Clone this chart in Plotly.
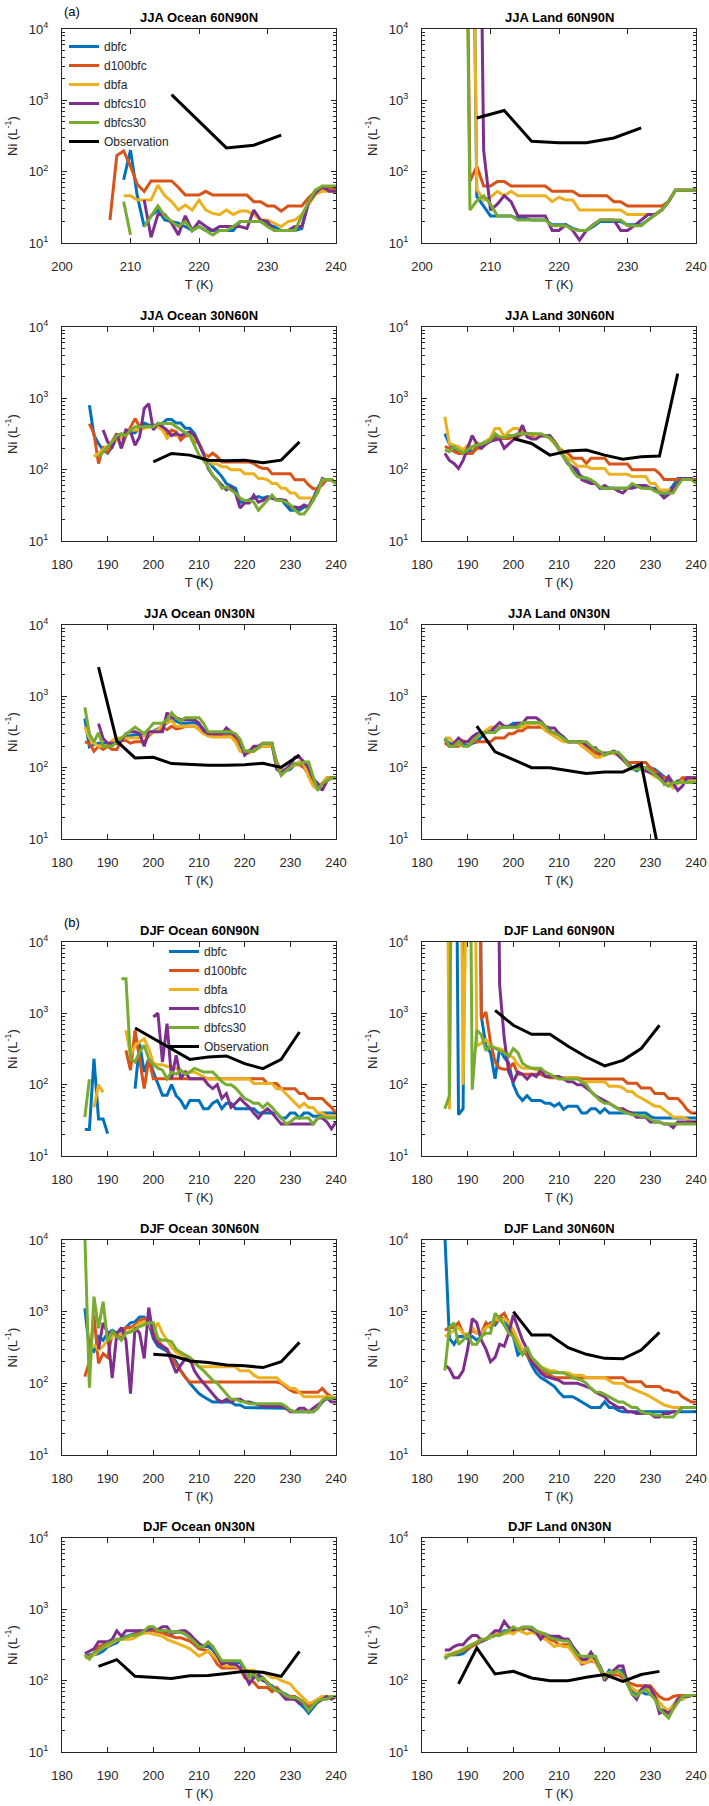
import plotly.graph_objects as go
from plotly.subplots import make_subplots

series_names = ["dbfc", "d100bfc", "dbfa", "dbfcs10", "dbfcs30"]
series_colors = ["#0072BD", "#D95319", "#EDB120", "#7E2F8E", "#77AC30"]
N = None
OFF = 1e10  # model value far above the 10^4 top of the axis

# ---------------- JJA Ocean 60N90N (model values start at 207 K, 1 K steps)
jo60_t0 = 207
jo60_dbfc = [N, N, 77, 200, 45, 17, 24, 29, 21, 20, 19, 17, 15, 17, 15, 15, 15, 15, 15, 20,
             20, 20, 20, 18, 17, 15, 15, 15, 16, 38, 55, 60, 60, 60]
jo60_d100bfc = [21, 168, 195, 119, 66, 53, 74, 74, 74, 74, 60, 47, 47, 47, 53, 47, 47, 47, 47, 47,
                47, 38, 38, 33, 33, 28, 33, 33, 33, 43, 53, 57, 57, 57]
jo60_dbfa = [N, N, 46, 46, 40, 40, 40, 65, 46, 38, 29, 34, 29, 40, 29, 26, 25, 29, 25, 28,
             28, 25, 21, 21, 19, 17, 20, 21, 25, 34, 48, 53, 53, 53]
jo60_dbfcs10 = [N, N, N, N, N, 40, 12, 25, 25, 19, 13, 24, 15, 20, 17, 15, 17, 17, 17, 17,
                16, 29, 21, 20, 15, 15, 15, 17, 17, 37, 50, 62, 53, 53]
jo60_dbfcs30 = [N, N, 38, 13, N, 17, 24, 33, 24, 20, 17, 20, 15, 17, 15, 13, 15, 15, 17, 20,
                20, 20, 20, 17, 15, 15, 15, 15, 24, 38, 55, 63, 63, 63]
jo60_obs_t = [216, 220, 224, 228, 232]
jo60_obs = [1200, 510, 215, 235, 325]

# ---------------- JJA Land 60N90N (from 206 K)
jl60_t0 = 206
jl60_dbfc = [N, OFF, 45, 33, 24, 24, 24, 24, 22, 22, 21, 21, 21, 18, 18, 18, 16, 15, 15, 17,
             20, 20, 20, 20, 18, 18, 18, 21, 25, 29, 38, 55, 55, 55, 55]
jl60_d100bfc = [OFF, 73, 119, 63, 63, 73, 73, 63, 63, 63, 63, 63, 63, 53, 53, 53, 53, 46, 46, 46,
                46, 46, 38, 38, 33, 33, 33, 33, 33, 33, 38, 55, 55, 55, 55]
jl60_dbfa = [N, OFF, 56, 40, 44, 53, 46, 53, 46, 46, 46, 46, 46, 38, 44, 40, 40, 29, 29, 29,
             29, 29, 29, 29, 25, 25, 25, 25, 25, 29, 38, 55, 55, 55, 55]
jl60_dbfcs10 = [N, N, OFF, 200, 29, 35, 46, 38, 24, 24, 24, 24, 24, 15, 15, 18, 15, 11, 15, 18,
                21, 21, 21, 15, 15, 17.5, 21, 25, 25, 29, 38, 55, 55, 55, 55]
jl60_dbfcs30 = [OFF, 29, 39, 46, 35, 24, 24, 24, 21, 21, 21, 21, 21, 17.5, 17.5, 17.5, 15.5, 15, 15, 17.5,
                21, 21, 21, 21, 17.5, 17.5, 17.5, 21, 25, 29, 38, 55, 55, 55, 55]
jl60_obs_t = [208, 212, 216, 220, 224, 228, 232]
jl60_obs = [565, 720, 266, 255, 255, 297, 410]

# ---------------- JJA Ocean 30N60N (from 186 K)
jo30_t0 = 186
jo30_dbfc = [800, 304, 233, 187, 170, 210, 280, 300, 330, 330,
             330, 380, 450, 420, 420, 420, 450, 505, 505, 450,
             450, 380, 380, 321, 233, 170, 136, 110, 94, 80,
             64, 60, 55, 35, 35, 38, 40, 42, 40, 42,
             40, 38, 38, 32, 27, 27, 27, 30, 30, 40,
             55, 70, 72, 72, 65]
jo30_d100bfc = [443, 320, 122, 210, 170, 250, 320, 200, 300, 400,
                520, 400, 400, 400, 400, 400, 400, 300, 360, 340,
                260, 300, 300, 250, 233, 170, 152, 170, 152, 128,
                128, 128, 128, 128, 128, 128, 122, 110, 104, 104,
                88, 88, 88, 88, 88, 72, 72, 72, 61, 54,
                54, 61, 73, 73, 65]
jo30_dbfa = [N, 152, 170, 190, 210, 240, 260, 280, 360, 360,
             360, 360, 380, 400, 400, 400, 360, 275, 320, 300,
             300, 320, 300, 270, 230, 170, 136, 120, 120, 110,
             110, 100, 100, 100, 88, 88, 88, 75, 75, 72,
             64, 64, 55, 55, 47, 47, 40, 40, 40, 40,
             47, 72, 72, 70, 65]
jo30_dbfcs10 = [N, N, N, 360, 245, 210, 320, 200, 360, 340,
                220, 290, 720, 840, 360, 445, 400, 360, 300, 320,
                300, 320, 340, 300, 230, 165, 104, 83, 72, 61,
                52, 57, 47, 29, 34, 34, 44, 35, 37, 41,
                40, 38, 38, 37, 30, 30, 29, 32, 30, 38,
                50, 75, 72, 72, 65]
jo30_dbfcs30 = [N, N, 150, 180, 210, 245, 300, 320, 300, 360,
                400, 400, 400, 400, 400, 445, 445, 445, 445, 400,
                360, 330, 300, 220, 160, 136, 110, 83, 72, 55,
                57, 52, 47, 40, 37, 37, 35, 27, 32, 37,
                44, 37, 37, 35, 32, 27, 24, 24, 29, 37,
                49, 73, 73, 73, 63]
jo30_obs_t = [200, 204, 208, 212, 216, 220, 224, 228, 232]
jo30_obs = [129, 169, 160, 136, 133, 136, 125, 136, 245]

# ---------------- JJA Land 30N60N (from 185 K)
jl30_t0 = 185
jl30_dbfc = [320, 230, 200, 180, 190, 180, 190, 210, 230, 250,
             270, 290, 280, 280, 300, 300, 310, 320, 320, 320,
             300, 300, 300, 300, 250, 200, 160, 130, 100, 90,
             80, 75, 70, 65, 55, 55, 55, 55, 55, 55,
             55, 60, 60, 60, 55, 55, 55, 50, 45, 50,
             60, 75, 75, 75, 75, 65]
jl30_d100bfc = [210, 200, 180, 169, 169, 169, 169, 200, 200, 230,
                250, 273, 273, 273, 273, 290, 290, 320, 320, 300,
                300, 300, 300, 290, 250, 200, 180, 169, 145, 145,
                145, 122, 145, 145, 145, 145, 120, 120, 120, 120,
                120, 100, 100, 100, 100, 100, 100, 88, 73, 73,
                73, 73, 73, 73, 73, 73]
jl30_dbfa = [550, 233, 220, 210, 190, 220, 200, 240, 220, 250,
             280, 377, 377, 290, 340, 377, 377, 340, 300, 320,
             300, 300, 300, 270, 230, 200, 160, 145, 130, 112,
             112, 112, 104, 104, 104, 104, 86, 86, 86, 86,
             86, 80, 80, 80, 80, 64, 64, 52, 52, 52,
             52, 64, 73, 73, 73, 65]
jl30_dbfcs10 = [170, 135, 122, 104, 135, 200, 300, 230, 200, 230,
                250, 260, 270, 200, 230, 260, 300, 420, 290, 270,
                270, 300, 300, 300, 240, 190, 150, 120, 110, 100,
                72, 68, 64, 64, 55, 60, 55, 55, 50, 47,
                55, 55, 57, 60, 60, 55, 50, 47, 40, 45,
                55, 65, 75, 75, 75, 65]
jl30_dbfcs30 = [190, 178, 210, 190, 170, 190, 210, 220, 230, 240,
                260, 320, 290, 280, 300, 300, 320, 320, 320, 320,
                320, 320, 300, 280, 240, 190, 150, 125, 95, 80,
                77, 77, 72, 65, 57, 55, 55, 55, 55, 55,
                55, 64, 60, 55, 55, 55, 50, 47, 47, 47,
                47, 60, 73, 73, 73, 65]
jl30_obs_t = [200, 204, 208, 212, 216, 220, 224, 228, 232, 236]
jl30_obs = [273, 233, 160, 183, 188, 160, 140, 152, 155, 2220]

# ---------------- JJA Ocean 0N30N (from 185 K)
jo0_t0 = 185
jo0_dbfc = [490, 196, 210, 220, 220, 210, 220, 220, 250, 270,
            280, 290, 290, 280, 300, 320, 350, 380, 420, 470,
            450, 420, 420, 430, 430, 400, 350, 300, 300, 300,
            300, 300, 300, 260, 200, 170, 170, 190, 200, 210,
            210, 210, 120, 85, 90, 95, 110, 120, 110, 90,
            65, 50, 60, 70, 72, 72]
jo0_d100bfc = [230, 220, 170, 200, 180, 200, 180, 180, 240, 240,
               220, 230, 230, 230, 280, 320, 320, 370, 340, 380,
               350, 360, 380, 380, 380, 350, 320, 280, 280, 280,
               280, 280, 280, 250, 220, 170, 170, 170, 190, 200,
               200, 200, 120, 90, 95, 100, 110, 110, 100, 80,
               65, 55, 60, 72, 72, 72]
jo0_dbfa = [374, 260, 220, 200, 200, 210, 240, 260, 260, 260,
            260, 260, 260, 280, 300, 320, 340, 400, 420, 460,
            380, 380, 380, 380, 380, 340, 300, 280, 270, 270,
            270, 270, 270, 230, 170, 160, 160, 180, 190, 200,
            200, 200, 110, 88, 95, 100, 110, 120, 110, 75,
            55, 50, 60, 72, 72, 72]
jo0_dbfcs10 = [N, N, N, 415, 256, 220, 220, 220, 240, 300,
               320, 320, 300, 200, 320, 320, 320, 320, 590, 500,
               500, 470, 470, 470, 470, 420, 330, 300, 300, 300,
               300, 360, 320, 280, 240, 150, 170, 200, 200, 220,
               220, 220, 95, 85, 95, 110, 140, 140, 120, 100,
               70, 60, 48, 65, 72, 72]
jo0_dbfcs30 = [700, 300, 230, 310, 200, 200, 200, 230, 260, 300,
               330, 370, 330, 300, 350, 420, 420, 420, 470, 590,
               500, 450, 500, 500, 500, 500, 420, 320, 320, 320,
               320, 320, 320, 300, 250, 170, 170, 170, 190, 220,
               220, 220, 110, 78, 90, 100, 115, 110, 120, 120,
               75, 48, 60, 65, 72, 72]
jo0_obs_t = [188, 192, 196, 200, 204, 208, 212, 216, 220, 224, 228, 232]
jo0_obs = [2570, 235, 137, 140, 114, 110, 108, 108, 110, 115, 101, 150]

# ---------------- JJA Land 0N30N (from 185 K)
jl0_t0 = 185
jl0_dbfc = [250, 220, 210, 210, 220, 200, 220, 230, 270, 320,
            320, 320, 360, 370, 380, 420, 420, 420, 420, 420,
            420, 400, 370, 330, 300, 300, 270, 230, 230, 230,
            230, 210, 190, 170, 160, 150, 160, 170, 160, 140,
            120, 100, 90, 100, 100, 100, 95, 85, 75, 65,
            60, 65, 68, 70, 70, 66]
jl0_d100bfc = [223, 200, 200, 200, 230, 230, 230, 230, 230, 230,
               230, 260, 260, 260, 300, 300, 330, 330, 370, 370,
               370, 370, 350, 320, 300, 300, 260, 230, 230, 230,
               230, 200, 180, 160, 150, 150, 160, 160, 150, 130,
               118, 118, 118, 118, 118, 100, 90, 80, 72, 72,
               60, 60, 72, 72, 72, 72]
jl0_dbfa = [260, 260, 220, 210, 240, 230, 260, 290, 300, 330,
            370, 370, 370, 370, 370, 370, 370, 370, 400, 420,
            420, 400, 330, 300, 270, 250, 230, 230, 230, 230,
            200, 180, 160, 140, 140, 150, 160, 160, 150, 130,
            110, 100, 100, 100, 95, 85, 75, 70, 65, 60,
            52, 60, 65, 65, 65, 65]
jl0_dbfcs10 = [250, 200, 220, 260, 230, 230, 270, 300, 310, 310,
               320, 370, 430, 380, 380, 380, 420, 420, 500, 500,
               500, 450, 380, 360, 360, 300, 260, 230, 230, 230,
               230, 210, 190, 190, 160, 160, 160, 170, 150, 130,
               110, 100, 100, 100, 90, 85, 80, 80, 60, 75,
               60, 48, 55, 72, 72, 72]
jl0_dbfcs30 = [260, 200, 200, 230, 200, 200, 230, 270, 310, 310,
               310, 310, 370, 370, 370, 370, 370, 430, 430, 430,
               430, 430, 380, 320, 310, 280, 250, 230, 230, 230,
               230, 230, 200, 180, 170, 150, 165, 165, 165, 140,
               110, 95, 95, 95, 100, 90, 80, 70, 60, 55,
               62, 62, 62, 62, 62, 62]
jl0_obs_t = [192, 196, 200, 204, 208, 212, 216, 220, 224, 228, 232]
jl0_obs = [382, 167, 130, 100, 100, 91, 83, 87, 87, 114, 6]

# ---------------- DJF Ocean 60N90N (from 185 K)
do60_t0 = 185
do60_dbfc = [23.5, 23.5, 231, 33, 33, 20.6, N, N, N, N,
             N, 88, 375, 150, 230, 150, 100, 71, 71, 100,
             70, 60, 46, 60, 60, 60, 46, 46, 55, 60,
             46, 55, 55, 46, 46, 46, 46, 46, 40, 40,
             40, 40, 40, 34, 34, 40, 40, 34, 40, 40,
             36, 36, 40, 40, 40, 40]
do60_d100bfc = [N, N, N, N, N, N, N, N, N, 303,
                160, 578, 208, 88, 230, 121, 121, 121, 121, 121,
                121, 121, 121, 121, 121, 121, 121, 121, 121, 121,
                121, 121, 121, 121, 121, 121, 121, 121, 121, 121,
                104, 104, 104, 88, 88, 88, 88, 75, 75, 64,
                64, 64, 64, 55, 48, 40]
do60_dbfa = [N, N, 48, 100, 78, N, N, N, N, 578,
             258, 356, 400, 440, 320, 200, 190, 190, 180, 180,
             170, 150, 150, 150, 150, 140, 130, 120, 120, 120,
             120, 120, 120, 120, 120, 120, 120, 104, 104, 104,
             104, 104, 88, 88, 75, 64, 55, 48, 55, 48,
             48, 40, 40, 36, 36, 36]
do60_dbfcs10 = [N, N, N, N, N, N, N, N, N, N,
                N, N, N, N, N, 890, 1010, 208, 716, 121,
                258, 121, 150, 121, 121, 121, 121, 100, 88, 100,
                64, 75, 48, 55, 64, 55, 48, 40, 34, 41,
                46, 40, 34, 28, 28, 28, 28, 28, 28, 28,
                28, 34, 34, 30, 24, 30]
do60_dbfcs30 = [35, 119, N, N, N, N, N, N, 3060, 3060,
                231, 208, 287, 356, 230, 190, 170, 160, 121, 150,
                140, 160, 140, 150, 170, 160, 150, 150, 150, 130,
                110, 100, 100, 90, 75, 64, 60, 55, 55, 48,
                55, 48, 40, 35, 28, 30, 34, 34, 34, 34,
                28, 34, 36, 34, 34, 34]
do60_obs_t = [196, 200, 204, 208, 212, 216, 220, 224, 228, 232]
do60_obs = [622, 441, 320, 226, 244, 253, 197, 168, 226, 548]

# ---------------- DJF Land 60N90N (from 185 K)
dl60_t0 = 185
dl60_dbfc = [N, N, OFF, 38, 46, OFF, OFF, OFF, 900, 350,
             280, 121, 320, 240, 200, 100, 71, 60, 70, 60,
             60, 60, 55, 55, 50, 55, 45, 50, 50, 50,
             40, 40, 46, 46, 40, 46, 40, 40, 40, 40,
             40, 40, 40, 40, 40, 36, 34, 34, 34, 34,
             34, 34, 34, 34, 34, 34]
dl60_d100bfc = [N, N, N, N, N, N, N, OFF, 830, 1045,
                396, 208, 170, 165, 165, 200, 140, 140, 140, 140,
                140, 140, 130, 125, 125, 125, 125, 125, 125, 125,
                120, 120, 120, 120, 120, 120, 120, 120, 120, 120,
                105, 105, 105, 90, 90, 90, 75, 75, 75, 64,
                64, 64, 55, 45, 40, 40]
dl60_dbfa = [OFF, 45, OFF, OFF, 100, OFF, OFF, 350, 380, 430,
             350, 330, 320, 300, 260, 240, 190, 170, 170, 170,
             160, 160, 150, 140, 130, 125, 125, 125, 125, 125,
             110, 110, 110, 110, 110, 110, 95, 95, 95, 90,
             80, 80, 70, 65, 60, 55, 50, 50, 45, 40,
             35, 35, 35, 33, 30, 30]
dl60_dbfcs10 = [N, N, N, N, N, N, N, N, N, N,
                N, OFF, 2500, 450, 150, 109, 150, 140, 120, 140,
                130, 160, 130, 130, 130, 130, 120, 110, 110, 100,
                100, 90, 80, 70, 65, 60, 55, 50, 46, 46,
                42, 40, 35, 35, 35, 30, 30, 30, 28, 28,
                25, 30, 30, 30, 30, 30]
dl60_dbfcs30 = [46, 70, OFF, OFF, OFF, OFF, 85, 580, 500, 300,
                350, 320, 300, 280, 250, 320, 280, 200, 180, 170,
                170, 170, 150, 140, 130, 120, 120, 120, 120, 120,
                110, 100, 80, 70, 60, 55, 55, 50, 46, 42,
                40, 38, 38, 36, 36, 33, 30, 30, 28, 28,
                28, 28, 28, 28, 28, 28]
dl60_obs_t = [196, 200, 204, 208, 212, 216, 220, 224, 228, 232]
dl60_obs = [1100, 680, 508, 508, 345, 244, 183, 219, 320, 680]

# ---------------- DJF Ocean 30N60N (from 185 K)
do30_t0 = 185
do30_dbfc = [1110, 300, 280, 450, 400, 500, 550, 500, 550, 600,
             700, 720, 840, 840, 700, 420, 330, 300, 280, 240,
             200, 150, 120, 100, 85, 72, 65, 60, 55, 55,
             55, 55, 55, 50, 50, 46, 46, 46, 46, 46,
             46, 46, 46, 46, 45, 42, 40, 40, 40, 40,
             40, 45, 55, 62, 62, 62]
do30_d100bfc = [124, 200, 900, 190, 260, 230, 500, 500, 450, 600,
                600, 650, 750, 800, 700, 500, 400, 330, 300, 230,
                180, 150, 120, 104, 104, 104, 104, 104, 104, 104,
                104, 104, 104, 104, 104, 104, 104, 104, 104, 104,
                104, 104, 104, 100, 90, 80, 75, 75, 75, 75,
                75, 75, 85, 72, 65, 62]
do30_dbfa = [N, N, 350, 290, 330, 400, 450, 500, 480, 500,
             550, 600, 700, 720, 700, 550, 700, 500, 400, 320,
             270, 250, 230, 200, 190, 170, 170, 170, 170, 170,
             170, 170, 170, 170, 150, 150, 150, 130, 120, 120,
             120, 120, 120, 104, 95, 85, 85, 75, 65, 65,
             65, 65, 65, 65, 65, 62]
do30_dbfcs10 = [N, N, N, 300, 700, 500, 118, 500, 600, 400,
                72, 600, 500, 223, 1140, 450, 350, 330, 300, 200,
                140, 180, 220, 220, 150, 120, 100, 85, 70, 60,
                55, 60, 55, 60, 60, 55, 55, 52, 50, 48,
                48, 48, 48, 48, 45, 40, 40, 45, 45, 40,
                45, 50, 55, 62, 55, 55]
do30_dbfcs30 = [12000, 87, 1620, 585, 1380, 381, 526, 450, 400, 500,
                520, 560, 620, 660, 700, 700, 425, 400, 400, 380,
                300, 270, 250, 230, 200, 170, 150, 130, 110, 100,
                85, 70, 60, 60, 56, 55, 52, 52, 52, 52,
                52, 52, 52, 52, 48, 42, 40, 40, 40, 40,
                40, 45, 58, 62, 62, 62]
do30_obs_t = [200, 204, 208, 212, 216, 220, 224, 228, 232]
do30_obs = [254, 244, 205, 195, 180, 176, 166, 200, 373]

# ---------------- DJF Land 30N60N (from 185 K)
dl30_t0 = 185
dl30_dbfc = [12000, 425, 350, 450, 450, 420, 450, 400, 450, 600,
             700, 650, 800, 800, 600, 450, 250, 280, 250, 180,
             140, 120, 110, 100, 90, 75, 65, 65, 65, 60,
             55, 50, 46, 46, 46, 55, 46, 46, 42, 40,
             40, 40, 40, 40, 40, 40, 40, 40, 40, 40,
             40, 40, 40, 40, 40, 40]
dl30_d100bfc = [550, 600, 600, 700, 500, 450, 550, 500, 500, 700,
                600, 700, 850, 950, 700, 500, 350, 300, 250, 200,
                170, 150, 140, 130, 120, 120, 120, 120, 120, 120,
                120, 120, 120, 120, 120, 120, 120, 120, 120, 120,
                105, 105, 105, 105, 90, 90, 90, 90, 80, 80,
                75, 75, 65, 60, 55, 55]
dl30_dbfa = [450, 500, 550, 600, 500, 450, 600, 500, 500, 600,
             650, 800, 750, 800, 700, 550, 400, 300, 280, 230,
             190, 170, 160, 150, 150, 140, 140, 140, 130, 130,
             130, 120, 120, 120, 120, 120, 110, 100, 100, 100,
             90, 85, 80, 75, 70, 65, 60, 55, 50, 48,
             46, 46, 46, 46, 46, 46]
dl30_dbfcs10 = [180, 160, 120, 120, 150, 300, 800, 700, 400, 300,
                200, 230, 350, 330, 500, 900, 600, 400, 300, 200,
                170, 140, 125, 120, 115, 110, 100, 100, 100, 100,
                95, 90, 85, 75, 70, 65, 55, 50, 46, 46,
                40, 40, 38, 38, 38, 38, 34, 34, 38, 38,
                40, 40, 46, 46, 46, 46]
dl30_dbfcs30 = [150, 600, 700, 350, 400, 500, 350, 350, 450, 500,
                500, 950, 800, 650, 500, 450, 320, 250, 320, 230,
                200, 170, 150, 140, 140, 140, 140, 130, 120, 115,
                110, 100, 85, 75, 75, 70, 65, 60, 55, 55,
                50, 46, 46, 40, 38, 38, 36, 36, 34, 34,
                34, 40, 46, 46, 46, 46]
dl30_obs_t = [200, 204, 208, 212, 216, 220, 224, 228, 232]
dl30_obs = [1000, 472, 472, 315, 254, 223, 220, 292, 515]

# ---------------- DJF Ocean 0N30N (from 185 K)
do0_t0 = 185
do0_dbfc = [220, 230, 230, 240, 260, 300, 320, 340, 400, 420,
            440, 460, 480, 500, 500, 500, 500, 500, 480, 480,
            480, 480, 450, 400, 380, 330, 300, 300, 270, 220,
            180, 180, 180, 180, 180, 140, 120, 110, 120, 110,
            90, 85, 75, 70, 65, 60, 55, 48, 42, 35,
            42, 50, 55, 60, 60, 60]
do0_d100bfc = [220, 220, 240, 300, 320, 340, 340, 380, 380, 400,
               420, 450, 500, 500, 520, 500, 480, 470, 440, 420,
               400, 400, 380, 360, 320, 280, 270, 260, 220, 170,
               150, 150, 150, 150, 150, 110, 100, 95, 80, 80,
               80, 70, 80, 70, 60, 60, 60, 55, 50, 45,
               50, 55, 60, 60, 60, 60]
do0_dbfa = [210, 210, 230, 260, 290, 310, 340, 370, 380, 380,
            380, 400, 440, 460, 470, 450, 440, 420, 380, 360,
            340, 320, 300, 280, 250, 220, 240, 260, 230, 200,
            170, 160, 160, 160, 150, 140, 140, 140, 130, 130,
            120, 110, 110, 100, 95, 90, 75, 65, 55, 48,
            50, 55, 60, 60, 60, 60]
do0_dbfcs10 = [240, 260, 280, 350, 350, 350, 380, 500, 420, 500,
               500, 500, 500, 500, 520, 540, 520, 570, 570, 460,
               480, 500, 500, 450, 380, 330, 300, 330, 300, 220,
               170, 180, 170, 170, 150, 120, 90, 110, 120, 100,
               95, 80, 75, 65, 55, 55, 55, 48, 48, 40,
               45, 50, 55, 60, 55, 60]
do0_dbfcs30 = [230, 200, 250, 260, 300, 330, 350, 380, 380, 400,
               430, 430, 450, 500, 570, 570, 500, 500, 500, 480,
               480, 480, 450, 400, 350, 300, 300, 350, 300, 240,
               190, 190, 190, 190, 190, 150, 110, 130, 100, 110,
               95, 80, 72, 70, 62, 58, 58, 55, 48, 38,
               45, 52, 55, 55, 60, 60]
do0_obs_t = [188, 192, 196, 200, 204, 208, 212, 216, 220, 224, 228, 232]
do0_obs = [159, 197, 115, 110, 107, 117, 118, 126, 135, 131, 115, 258]

# ---------------- DJF Land 0N30N (from 185 K)
dl0_t0 = 185
dl0_dbfc = [210, 230, 230, 230, 240, 270, 310, 330, 350, 380,
            400, 430, 450, 500, 500, 520, 520, 520, 560, 560,
            500, 450, 420, 420, 400, 380, 380, 380, 300, 250,
            190, 190, 210, 200, 160, 110, 140, 130, 140, 140,
            100, 75, 65, 70, 65, 65, 60, 40, 38, 35,
            45, 55, 55, 60, 62, 62]
dl0_d100bfc = [220, 230, 230, 250, 260, 280, 300, 330, 360, 380,
               420, 450, 450, 460, 480, 480, 520, 520, 550, 500,
               470, 450, 400, 380, 360, 320, 320, 320, 270, 220,
               170, 180, 190, 180, 150, 120, 120, 120, 120, 110,
               95, 90, 85, 85, 85, 85, 70, 60, 55, 55,
               60, 62, 62, 62, 62, 62]
dl0_dbfa = [230, 230, 250, 260, 280, 300, 320, 350, 380, 380,
            400, 450, 430, 450, 480, 450, 520, 480, 450, 480,
            450, 400, 380, 340, 300, 320, 300, 300, 250, 200,
            180, 180, 200, 180, 140, 120, 130, 140, 130, 120,
            90, 80, 70, 75, 80, 75, 60, 50, 42, 38,
            45, 55, 55, 60, 62, 62]
dl0_dbfcs10 = [270, 270, 300, 320, 320, 380, 430, 430, 370, 380,
               440, 500, 500, 680, 560, 520, 520, 560, 560, 520,
               480, 380, 450, 420, 420, 420, 380, 380, 300, 250,
               200, 200, 250, 200, 150, 100, 120, 140, 160, 160,
               90, 65, 55, 75, 85, 80, 60, 35, 38, 35,
               40, 55, 60, 60, 62, 62]
dl0_dbfcs30 = [200, 230, 240, 250, 270, 300, 320, 340, 380, 380,
               430, 430, 430, 480, 500, 570, 520, 560, 560, 560,
               500, 480, 450, 400, 380, 370, 360, 360, 280, 230,
               220, 220, 220, 220, 150, 110, 130, 130, 140, 120,
               90, 65, 60, 70, 75, 65, 55, 40, 35, 30,
               40, 50, 60, 62, 62, 62]
dl0_obs_t = [188, 192, 196, 200, 204, 208, 212, 216, 220, 224, 228, 232]
dl0_obs = [90, 287, 124, 135, 109, 100, 100, 112, 122, 98, 122, 135]

panels = [
    ("JJA Ocean 60N90N", jo60_t0, [jo60_dbfc, jo60_d100bfc, jo60_dbfa, jo60_dbfcs10, jo60_dbfcs30], jo60_obs_t, jo60_obs, 200),
    ("JJA Land 60N90N", jl60_t0, [jl60_dbfc, jl60_d100bfc, jl60_dbfa, jl60_dbfcs10, jl60_dbfcs30], jl60_obs_t, jl60_obs, 200),
    ("JJA Ocean 30N60N", jo30_t0, [jo30_dbfc, jo30_d100bfc, jo30_dbfa, jo30_dbfcs10, jo30_dbfcs30], jo30_obs_t, jo30_obs, 180),
    ("JJA Land 30N60N", jl30_t0, [jl30_dbfc, jl30_d100bfc, jl30_dbfa, jl30_dbfcs10, jl30_dbfcs30], jl30_obs_t, jl30_obs, 180),
    ("JJA Ocean 0N30N", jo0_t0, [jo0_dbfc, jo0_d100bfc, jo0_dbfa, jo0_dbfcs10, jo0_dbfcs30], jo0_obs_t, jo0_obs, 180),
    ("JJA Land 0N30N", jl0_t0, [jl0_dbfc, jl0_d100bfc, jl0_dbfa, jl0_dbfcs10, jl0_dbfcs30], jl0_obs_t, jl0_obs, 180),
    ("DJF Ocean 60N90N", do60_t0, [do60_dbfc, do60_d100bfc, do60_dbfa, do60_dbfcs10, do60_dbfcs30], do60_obs_t, do60_obs, 180),
    ("DJF Land 60N90N", dl60_t0, [dl60_dbfc, dl60_d100bfc, dl60_dbfa, dl60_dbfcs10, dl60_dbfcs30], dl60_obs_t, dl60_obs, 180),
    ("DJF Ocean 30N60N", do30_t0, [do30_dbfc, do30_d100bfc, do30_dbfa, do30_dbfcs10, do30_dbfcs30], do30_obs_t, do30_obs, 180),
    ("DJF Land 30N60N", dl30_t0, [dl30_dbfc, dl30_d100bfc, dl30_dbfa, dl30_dbfcs10, dl30_dbfcs30], dl30_obs_t, dl30_obs, 180),
    ("DJF Ocean 0N30N", do0_t0, [do0_dbfc, do0_d100bfc, do0_dbfa, do0_dbfcs10, do0_dbfcs30], do0_obs_t, do0_obs, 180),
    ("DJF Land 0N30N", dl0_t0, [dl0_dbfc, dl0_d100bfc, dl0_dbfa, dl0_dbfcs10, dl0_dbfcs30], dl0_obs_t, dl0_obs, 180),
]

W, H = 709, 1806
FONT = "Liberation Sans, Arial, Helvetica, sans-serif"
AX = "#262626"
x_px = [(62, 336), (422, 696)]
y_px = [(29, 243), (327, 541), (625, 839), (942, 1156), (1240, 1455), (1538, 1752)]
minor_vals = [m * 10 ** e for e in (1, 2, 3) for m in range(2, 10)]

fig = make_subplots(rows=6, cols=2)

for i, (title, t0, models, obs_t, obs, xmin) in enumerate(panels):
    r, c = i // 2 + 1, i % 2 + 1
    legend_id = "legend" if i == 0 else ("legend2" if i == 6 else None)
    for name, color, vals in zip(series_names, series_colors, models):
        temps = [t0 + k for k in range(len(vals))]
        fig.add_trace(
            go.Scatter(
                x=temps, y=vals, mode="lines", name=name,
                line=dict(color=color, width=3),
                showlegend=legend_id is not None,
                legend=legend_id or "legend",
            ),
            row=r, col=c,
        )
    fig.add_trace(
        go.Scatter(
            x=obs_t, y=obs, mode="lines", name="Observation",
            line=dict(color="black", width=3),
            showlegend=legend_id is not None,
            legend=legend_id or "legend",
        ),
        row=r, col=c,
    )

    x0, x1 = x_px[c - 1]
    top, bot = y_px[r - 1]
    fig.update_xaxes(
        domain=[x0 / W, x1 / W],
        range=[xmin, 240], automargin=False,
        tickvals=list(range(xmin, 241, 10)),
        ticks="inside", ticklen=5, tickcolor=AX,
        showline=True, linecolor=AX, linewidth=1, mirror="ticks",
        showgrid=False, zeroline=False,
        tickfont=dict(size=13, color=AX, family=FONT),
        ticklabelstandoff=11,
        title=dict(text="T (K)", font=dict(size=13, color=AX, family=FONT), standoff=7),
        row=r, col=c,
    )
    fig.update_yaxes(
        domain=[1 - bot / H, 1 - top / H],
        type="log", range=[1, 4], automargin=False,
        tickvals=[10, 100, 1000, 10000],
        ticktext=["10<sup>1</sup>", "10<sup>2</sup>", "10<sup>3</sup>", "10<sup>4</sup>"],
        ticks="inside", ticklen=5, tickcolor=AX,
        minor=dict(ticks="inside", ticklen=3, tickcolor=AX, tickmode="array", tickvals=minor_vals, showgrid=False),
        showline=True, linecolor=AX, linewidth=1, mirror="ticks",
        showgrid=False, zeroline=False,
        tickfont=dict(size=13, color=AX, family=FONT),
        ticklabelstandoff=10,
        title=dict(text="Ni (L<sup>-1</sup>)", font=dict(size=13, color=AX, family=FONT), standoff=8),
        row=r, col=c,
    )
    fig.add_annotation(
        text=f"<b>{title}</b>", xref="paper", yref="paper",
        x=(x0 + x1) / 2 / W, y=1 - top / H, xanchor="center", yanchor="bottom",
        yshift=2, showarrow=False, font=dict(size=13, color="black", family=FONT),
    )

fig.add_annotation(text="(a)", xref="paper", yref="paper", x=62 / W, y=1 - 2 / H,
                   xanchor="left", yanchor="top", showarrow=False,
                   font=dict(size=13, color="black", family=FONT))
fig.add_annotation(text="(b)", xref="paper", yref="paper", x=62 / W, y=1 - 913 / H,
                   xanchor="left", yanchor="top", showarrow=False,
                   font=dict(size=13, color="black", family=FONT))

legend_style = dict(
    xanchor="left", yanchor="top", bgcolor="rgba(0,0,0,0)", borderwidth=0,
    font=dict(size=12, color=AX, family=FONT), tracegroupgap=0,
)
fig.update_layout(
    width=W, height=H,
    margin=dict(l=0, r=0, t=0, b=0),
    paper_bgcolor="white", plot_bgcolor="white",
    font=dict(family=FONT, size=13, color=AX),
    legend=dict(x=64 / W, y=1 - 32 / H, **legend_style),
    legend2=dict(x=164 / W, y=1 - 937 / H, **legend_style),
)

# the page's default body margin would shift the figure and add scrollbars
fig.write_html(
    "out.html",
    config={"displayModeBar": False},
    post_script="document.body.style.margin='0';document.documentElement.style.overflow='hidden';",
)
